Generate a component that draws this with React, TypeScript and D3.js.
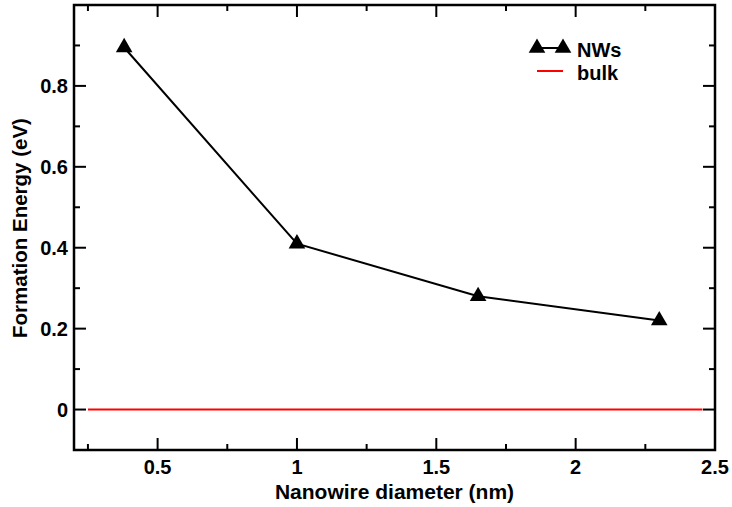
import React from "react";
import * as d3 from "d3";

const diameters = [0.38, 1.0, 1.65, 2.3];
const energies = [0.895, 0.41, 0.28, 0.22];
const bulkX = [0.25, 2.455];
const bulkY = [0, 0];
const xTicks = [0.5, 1, 1.5, 2, 2.5];
const xTickLabels = ["0.5", "1", "1.5", "2", "2.5"];
const xMinor = [0.25, 0.75, 1.25, 1.75, 2.25];
const yTicks = [0, 0.2, 0.4, 0.6, 0.8];
const yTickLabels = ["0", "0.2", "0.4", "0.6", "0.8"];
const yMinor = [0.1, 0.3, 0.5, 0.7, 0.9];

const W = 732, H = 507;
const L = 74, R = 715, T = 5, B = 450;

export default function App() {
  const x = d3.scaleLinear().domain([0.2, 2.5]).range([L, R]);
  const y = d3.scaleLinear().domain([-0.1, 1.0]).range([B, T]);
  const line = d3.line<number>().x((_, i) => x(diameters[i])).y((d) => y(d));
  const tri = d3.symbol().type(d3.symbolTriangle).size(120)();
  const font = "'Liberation Sans', Arial, Helvetica, sans-serif";
  const fs = 20;
  const maj = 12, mnr = 6;
  return (
    <svg width={W} height={H} style={{ position: "absolute", left: 0, top: 0, background: "#fff" }}>
      <rect x={0} y={0} width={W} height={H} fill="#fff" />
      <line x1={x(bulkX[0])} x2={x(bulkX[1])} y1={y(bulkY[0])} y2={y(bulkY[1])} stroke="#ff0000" strokeWidth={2} />
      <path d={line(energies) || ""} fill="none" stroke="#000" strokeWidth={2} />
      {energies.map((e, i) => (
        <path key={i} d={tri || ""} transform={`translate(${x(diameters[i])},${y(e)})`} fill="#000" />
      ))}
      <rect x={L} y={T} width={R - L} height={B - T} fill="none" stroke="#000" strokeWidth={2.5} />
      {xTicks.map((t) => (
        <g key={"xt" + t}>
          <line x1={x(t)} x2={x(t)} y1={B} y2={B - maj} stroke="#000" strokeWidth={2} />
          <line x1={x(t)} x2={x(t)} y1={T} y2={T + maj} stroke="#000" strokeWidth={2} />
        </g>
      ))}
      {xMinor.map((t) => (
        <g key={"xm" + t}>
          <line x1={x(t)} x2={x(t)} y1={B} y2={B - mnr} stroke="#000" strokeWidth={2} />
          <line x1={x(t)} x2={x(t)} y1={T} y2={T + mnr} stroke="#000" strokeWidth={2} />
        </g>
      ))}
      {yTicks.map((t) => (
        <g key={"yt" + t}>
          <line x1={L} x2={L + maj} y1={y(t)} y2={y(t)} stroke="#000" strokeWidth={2} />
          <line x1={R} x2={R - maj} y1={y(t)} y2={y(t)} stroke="#000" strokeWidth={2} />
        </g>
      ))}
      {yMinor.map((t) => (
        <g key={"ym" + t}>
          <line x1={L} x2={L + mnr} y1={y(t)} y2={y(t)} stroke="#000" strokeWidth={2} />
          <line x1={R} x2={R - mnr} y1={y(t)} y2={y(t)} stroke="#000" strokeWidth={2} />
        </g>
      ))}
      {xTicks.map((t, i) => (
        <text key={"xl" + t} x={x(t)} y={B + 24} textAnchor="middle" fontFamily={font} fontWeight="bold" fontSize={fs}>
          {xTickLabels[i]}
        </text>
      ))}
      {yTicks.map((t, i) => (
        <text key={"yl" + t} x={L - 6} y={y(t) + 7} textAnchor="end" fontFamily={font} fontWeight="bold" fontSize={fs}>
          {yTickLabels[i]}
        </text>
      ))}
      <text x={(L + R) / 2} y={499} textAnchor="middle" fontFamily={font} fontWeight="bold" fontSize={21}>
        Nanowire diameter (nm)
      </text>
      <text transform={`translate(27,228) rotate(-90)`} textAnchor="middle" fontFamily={font} fontWeight="bold" fontSize={20.5}>
        Formation Energy (eV)
      </text>
      <line x1={537} x2={563} y1={48} y2={48} stroke="#000" strokeWidth={2} />
      <path d={tri || ""} transform="translate(537,48)" fill="#000" />
      <path d={tri || ""} transform="translate(563,48)" fill="#000" />
      <text x={577} y={57} fontFamily={font} fontWeight="bold" fontSize={fs}>NWs</text>
      <line x1={537} x2={563} y1={71} y2={71} stroke="#ff0000" strokeWidth={2} />
      <text x={577} y={80} fontFamily={font} fontWeight="bold" fontSize={fs}>bulk</text>
    </svg>
  );
}
